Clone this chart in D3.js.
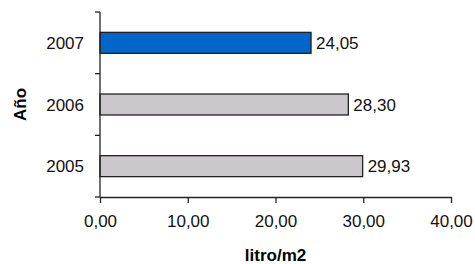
<!DOCTYPE html>
<html>
<head>
<meta charset="utf-8">
<script src="https://cdn.jsdelivr.net/npm/d3@7"></script>
<style>
  body { margin: 0; background: #fff; }
  text { font-family: "Liberation Sans", Arial, sans-serif; }
</style>
</head>
<body>
<div class="chart"></div>
<script>
var width = 475,
    height = 264;

// data
let years = ["2007", "2006", "2005"];
let values = [24.05, 28.30, 29.93];
let colors = ["#0066CC", "#CCC7CC", "#CCC7CC"];
let xTicks = [0, 10, 20, 30, 40];

let margin = {top: 12, right: 24, bottom: 67, left: 100};

let fmt = function(v){
    return d3.format(".2f")(v).replace(".", ",");
};

let svg = d3.select(".chart")
    .append("svg")
    .attr("width", width)
    .attr("height", height);

let x = d3.scaleLinear()
    .domain([0, 40])
    .range([margin.left, 451]);

let y = d3.scaleBand()
    .domain(years)
    .range([margin.top, height - margin.bottom])
    .paddingInner(0.66)
    .paddingOuter(0.33);

// bars
svg.selectAll(".bar")
    .data(years)
    .join("rect")
    .attr("class", "bar")
    .attr("x", x(0))
    .attr("y", d => y(d))
    .attr("width", (d, i) => x(values[i]) - x(0))
    .attr("height", y.bandwidth())
    .style("fill", (d, i) => colors[i])
    .style("stroke", "#222")
    .style("stroke-width", 1.3);

// value labels
svg.selectAll(".val")
    .data(years)
    .join("text")
    .attr("class", "val")
    .attr("x", (d, i) => x(values[i]) + 5)
    .attr("y", d => y(d) + y.bandwidth() / 2)
    .attr("dy", "0.36em")
    .style("font-size", "17px")
    .style("fill", "#111")
    .text((d, i) => fmt(values[i]));

// y axis
let yBottom = height - margin.bottom;
svg.append("line")
    .attr("x1", x(0)).attr("x2", x(0))
    .attr("y1", margin.top).attr("y2", yBottom)
    .style("stroke", "#222").style("stroke-width", 1.3);

let yTickPos = d3.range(years.length + 1).map(i => margin.top + i * (yBottom - margin.top) / years.length);
svg.selectAll(".ytick")
    .data(yTickPos)
    .join("line")
    .attr("x1", x(0) - 5).attr("x2", x(0))
    .attr("y1", d => d).attr("y2", d => d)
    .style("stroke", "#222").style("stroke-width", 1.3);

svg.selectAll(".ylab")
    .data(years)
    .join("text")
    .attr("x", x(0) - 16)
    .attr("y", d => y(d) + y.bandwidth() / 2)
    .attr("dy", "0.36em")
    .style("text-anchor", "end")
    .style("font-size", "17px")
    .style("fill", "#111")
    .text(d => d);

// x axis
let xAxis = svg.append("g")
    .attr("transform", `translate(0, ${yBottom})`)
    .call(d3.axisBottom(x).tickValues(xTicks).tickSize(6).tickSizeOuter(0).tickPadding(12).tickFormat(fmt));

xAxis.select(".domain").style("stroke", "#222").style("stroke-width", 1.3);
xAxis.selectAll(".tick line").style("stroke", "#222").style("stroke-width", 1.3);
xAxis.selectAll(".tick text")
    .style("font-family", "'Liberation Sans', Arial, sans-serif")
    .style("font-size", "17px")
    .style("fill", "#111");

// titles
svg.append("text")
    .attr("x", (x(0) + x(40)) / 2)
    .attr("y", 261)
    .style("text-anchor", "middle")
    .style("font-size", "17px")
    .style("font-weight", "bold")
    .text("litro/m2");

svg.append("text")
    .attr("transform", `translate(26, ${(margin.top + yBottom) / 2}) rotate(-90)`)
    .style("text-anchor", "middle")
    .style("font-size", "17px")
    .style("font-weight", "bold")
    .text("Año");
</script>
</body>
</html>
